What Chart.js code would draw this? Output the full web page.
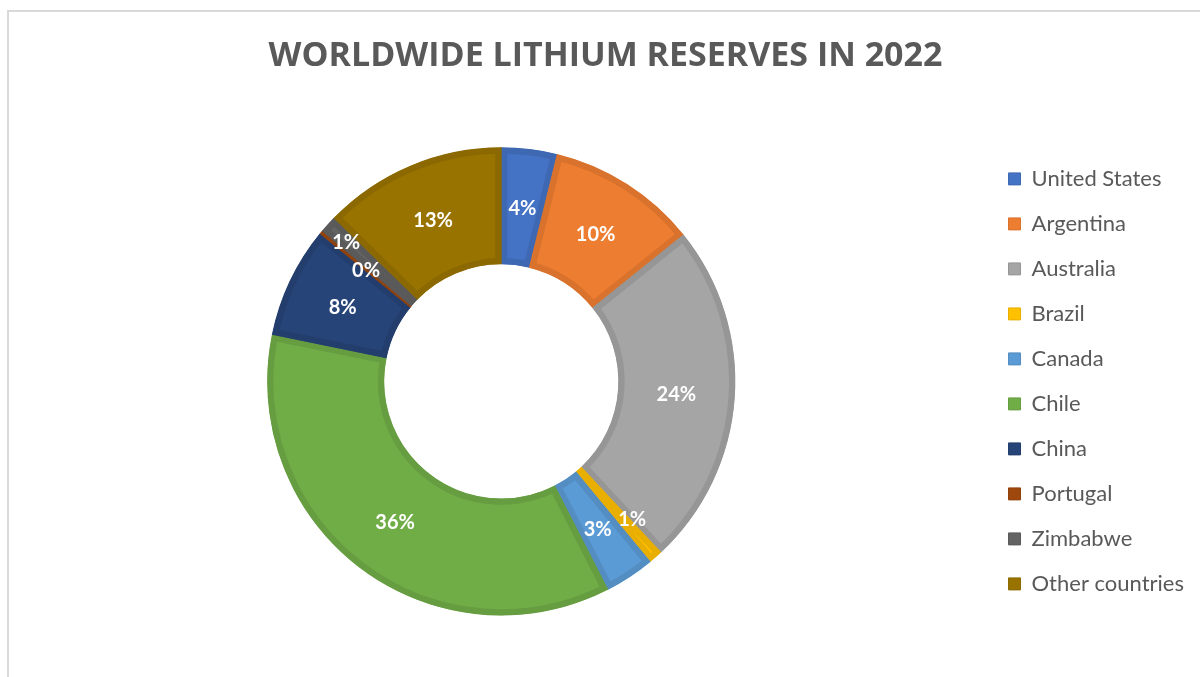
<!DOCTYPE html>
<html>
<head>
<meta charset="utf-8">
<title>Worldwide Lithium Reserves in 2022</title>
<script src="https://cdn.jsdelivr.net/npm/chart.js@4.4.1/dist/chart.umd.min.js"></script>
<style>
  html, body { margin: 0; padding: 0; background: #fff; }
  #wrap { position: relative; width: 1200px; height: 677px; }
</style>
</head>
<body>
<div id="wrap"><canvas id="reserves"></canvas></div>
<script>
// reserves by country, thousand tonnes
const countries = [
  "United States", "Argentina", "Australia", "Brazil", "Canada",
  "Chile", "China", "Portugal", "Zimbabwe", "Other countries",
];
const reserves = [1000, 2700, 6200, 250, 900, 9300, 2000, 60, 310, 3300];

// Office palette
const sliceColors = [
  "#4472C4", "#ED7D31", "#A5A5A5", "#FFC000", "#5B9BD5",
  "#70AD47", "#264478", "#9E480E", "#636363", "#997300",
];

const darken = (hex, f) => {
  const n = parseInt(hex.slice(1), 16);
  const c = [(n >> 16) & 255, (n >> 8) & 255, n & 255].map((v) => Math.round(v * f));
  return `rgb(${c[0]}, ${c[1]}, ${c[2]})`;
};

const TEXT = "#595959";

// thin grey frame on the left and top edges
const framePlugin = {
  id: "frame",
  beforeDraw(chart) {
    const { ctx, width, height } = chart;
    ctx.save();
    ctx.strokeStyle = "#D9D9D9";
    ctx.lineWidth = 2;
    ctx.beginPath();
    ctx.moveTo(8, height);
    ctx.lineTo(8, 11);
    ctx.lineTo(width, 11);
    ctx.stroke();
    ctx.restore();
  },
};

// white percentage labels in the middle of each ring segment
const percentLabels = {
  id: "percentLabels",
  afterDatasetsDraw(chart, args, opts) {
    const { ctx } = chart;
    const data = chart.data.datasets[0].data;
    const total = data.reduce((a, b) => a + b, 0);
    const meta = chart.getDatasetMeta(0);
    ctx.save();
    ctx.fillStyle = "#fff";
    ctx.font = "bold 20px Lato";
    ctx.textAlign = "center";
    ctx.textBaseline = "alphabetic";
    meta.data.forEach((arc, i) => {
      const { x, y } = arc.getCenterPoint();
      const [dx, dy] = opts.nudge[chart.data.labels[i]] || [0, 0];
      // baseline sits half a cap height below the centre point
      ctx.fillText(Math.round((data[i] / total) * 100) + "%", x + dx, y + dy + 7.5);
    });
    ctx.restore();
  },
};

const baseLabels = Chart.overrides.doughnut.plugins.legend.labels.generateLabels;

new Chart(document.getElementById("reserves"), {
  type: "doughnut",
  data: {
    labels: countries,
    datasets: [
      {
        data: reserves,
        backgroundColor: sliceColors,
        borderColor: sliceColors.map((c) => darken(c, 0.91)),
        borderWidth: 6,
        borderAlign: "inner",
      },
    ],
  },
  options: {
    responsive: true,
    maintainAspectRatio: false,
    animation: false,
    cutout: "50%",
    radius: "95.7%",
    layout: { padding: { top: 10, bottom: 51, left: 17, right: 6 } },
    plugins: {
      title: {
        display: true,
        text: "WORLDWIDE LITHIUM RESERVES IN 2022",
        color: TEXT,
        font: { family: "Open Sans", size: 34, weight: "bold" },
        padding: { top: 26, bottom: 60 },
      },
      legend: {
        position: "right",
        align: "center",
        fullSize: false,
        labels: {
          boxWidth: 12,
          boxHeight: 12,
          padding: 23,
          color: TEXT,
          font: { family: "Lato", size: 22 },
          generateLabels: (chart) =>
            baseLabels(chart).map((l) => ({ ...l, lineWidth: 1 })),
        },
      },
      tooltip: { enabled: false },
      percentLabels: {
        nudge: { Brazil: [15, 5], Zimbabwe: [-25, -22] },
      },
    },
  },
  plugins: [framePlugin, percentLabels],
});
</script>
</body>
</html>
